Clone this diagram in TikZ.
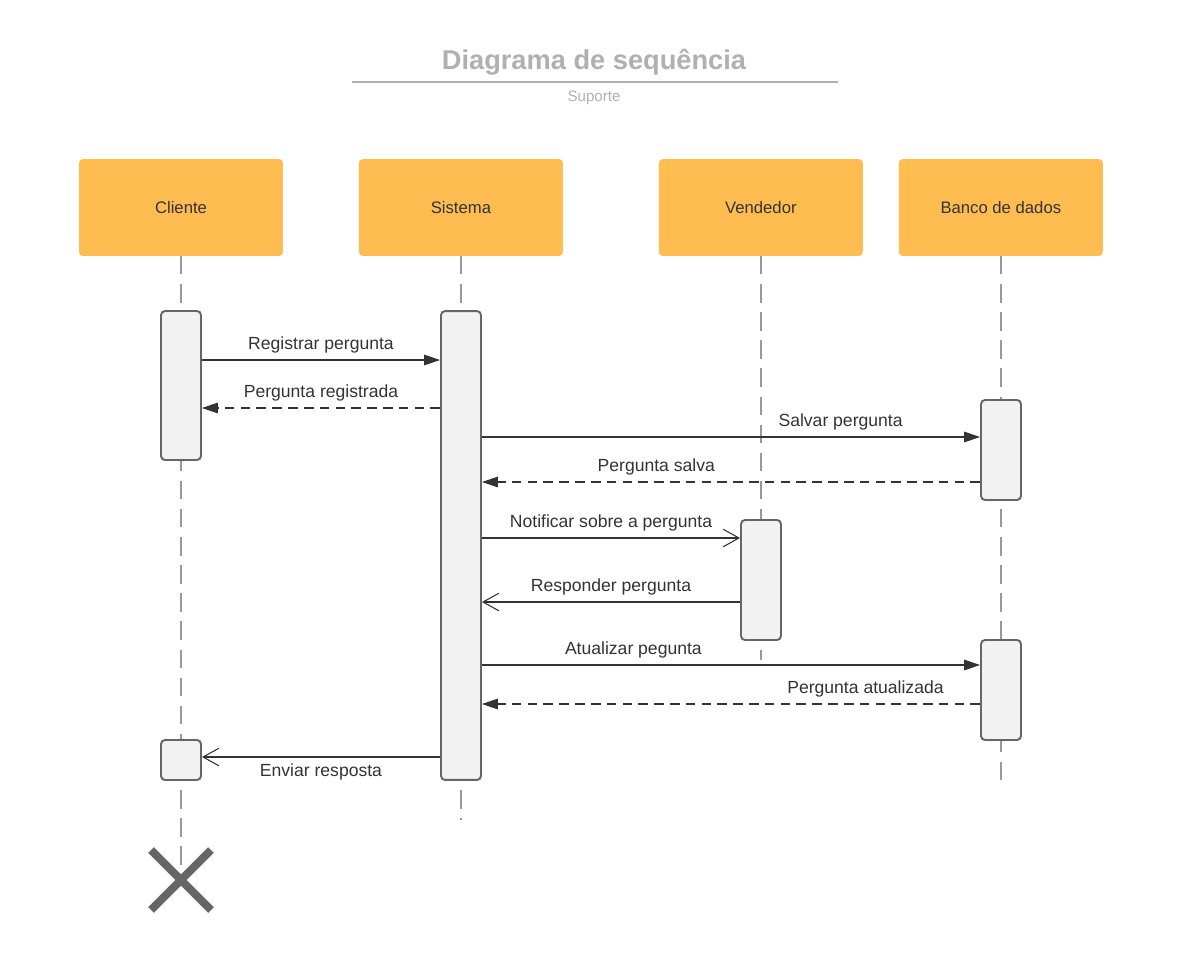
\documentclass[tikz,border=0pt]{standalone}
\usepackage{fontspec}
\setmainfont{Liberation Sans}
\usetikzlibrary{positioning, arrows.meta, shapes.misc}

\definecolor{boxorange}{HTML}{FFBC51}
\definecolor{barfill}{HTML}{F2F2F2}
\definecolor{bargray}{HTML}{666666}
\definecolor{linegray}{HTML}{999999}
\definecolor{ink}{HTML}{333333}
\definecolor{titlegray}{HTML}{B0B0B0}

\tikzset{
    actor/.style={fill=boxorange, rounded corners=2.3pt, minimum width=4.08cm, outer sep=0pt,
        minimum height=1.94cm, text=ink, font=\fontsize{9.5}{11}\selectfont},
    lifeline/.style={draw=linegray, line width=1.1pt, dash pattern=on 10.5pt off 5.5pt},
    bar/.style={draw=bargray, fill=barfill, line width=1.1pt, rounded corners=2.3pt,
        minimum width=0.8cm, inner sep=0pt},
    call/.style={draw=ink, line width=0.6pt, -{Triangle[length=9pt,width=6pt]}},
    reply/.style={call, dash pattern=on 5.5pt off 3.5pt},
    async/.style={draw=ink, line width=0.6pt, -{Straight Barb[length=9pt,width=10pt]}},
    msg/.style={text=ink, font=\fontsize{10}{12}\selectfont},
}

\begin{document}
\begin{tikzpicture}[x=0.02cm, y=-0.02cm]
    \useasboundingbox (0,0) rectangle (1181,971);

    % title
    \node[text=titlegray, font=\bfseries\fontsize{15.5}{18}\selectfont] (title) at (594,62) {Diagrama de sequência};
    \draw[titlegray, line width=1.1pt] (352,82) -- (838,82);
    \node[text=titlegray, font=\fontsize{8.6}{10}\selectfont] (sub) at (594,98) {Suporte};

    % participants
    \node[actor] (cli) at (181,207.5) {Cliente};
    \node[actor, right=1.52cm of cli] (sis) {Sistema};
    \node[actor, right=1.92cm of sis] (ven) {Vendedor};
    \node[actor, right=0.72cm of ven] (ban) {Banco de dados};

    \node[draw=bargray, cross out, line width=4.5pt, minimum size=1.2cm, inner sep=0pt, outer sep=0pt] (fim) at (181,880) {};

    \draw[lifeline] (cli.south) -- (cli.south |- 0,870);
    \draw[lifeline] (sis.south) -- (sis.south |- 0,820);
    \draw[lifeline] (ven.south) -- (ven.south |- 0,660);
    \draw[lifeline] (ban.south) -- (ban.south |- 0,780);

    % activations
    \node[bar, minimum height=2.98cm] (aCli) at (181,385.5) {};
    \node[bar, minimum height=9.38cm] (aSis) at (461,545.5) {};
    \node[bar, minimum height=2cm] (aBan) at (1001,450) {};
    \node[bar, minimum height=2.4cm] (aVen) at (761,580) {};
    \node[bar, minimum height=2cm] (aBan2) at (1001,690) {};
    \node[bar, minimum height=0.8cm] (aCli2) at (181,760) {};

    % messages
    \draw[call] (aCli.east |- 0,360) -- node[msg, midway, yshift=0.31cm] {Registrar pergunta} (aSis.west |- 0,360);
    \draw[reply] (aSis.west |- 0,408) -- node[msg, midway, yshift=0.31cm] {Pergunta registrada} (aCli.east |- 0,408);
    \draw[call] (aSis.east |- 0,437) -- node[msg, pos=0.72, yshift=0.31cm] {Salvar pergunta} (aBan.west |- 0,437);
    \draw[reply] (aBan.west |- 0,482) -- node[msg, pos=0.65, yshift=0.31cm] {Pergunta salva} (aSis.east |- 0,482);
    \draw[async] (aSis.east |- 0,538) -- node[msg, midway, yshift=0.31cm] {Notificar sobre a pergunta} (aVen.west |- 0,538);
    \draw[async] (aVen.west |- 0,602) -- node[msg, midway, yshift=0.31cm] {Responder pergunta} (aSis.east |- 0,602);
    \draw[call] (aSis.east |- 0,665) -- node[msg, pos=0.304, yshift=0.31cm] {Atualizar pegunta} (aBan2.west |- 0,665);
    \draw[reply] (aBan2.west |- 0,704) -- node[msg, pos=0.23, yshift=0.31cm] {Pergunta atualizada} (aSis.east |- 0,704);
    \draw[async] (aSis.west |- 0,757) -- node[msg, midway, yshift=-0.29cm] {Enviar resposta} (aCli2.east |- 0,757);
\end{tikzpicture}
\end{document}
